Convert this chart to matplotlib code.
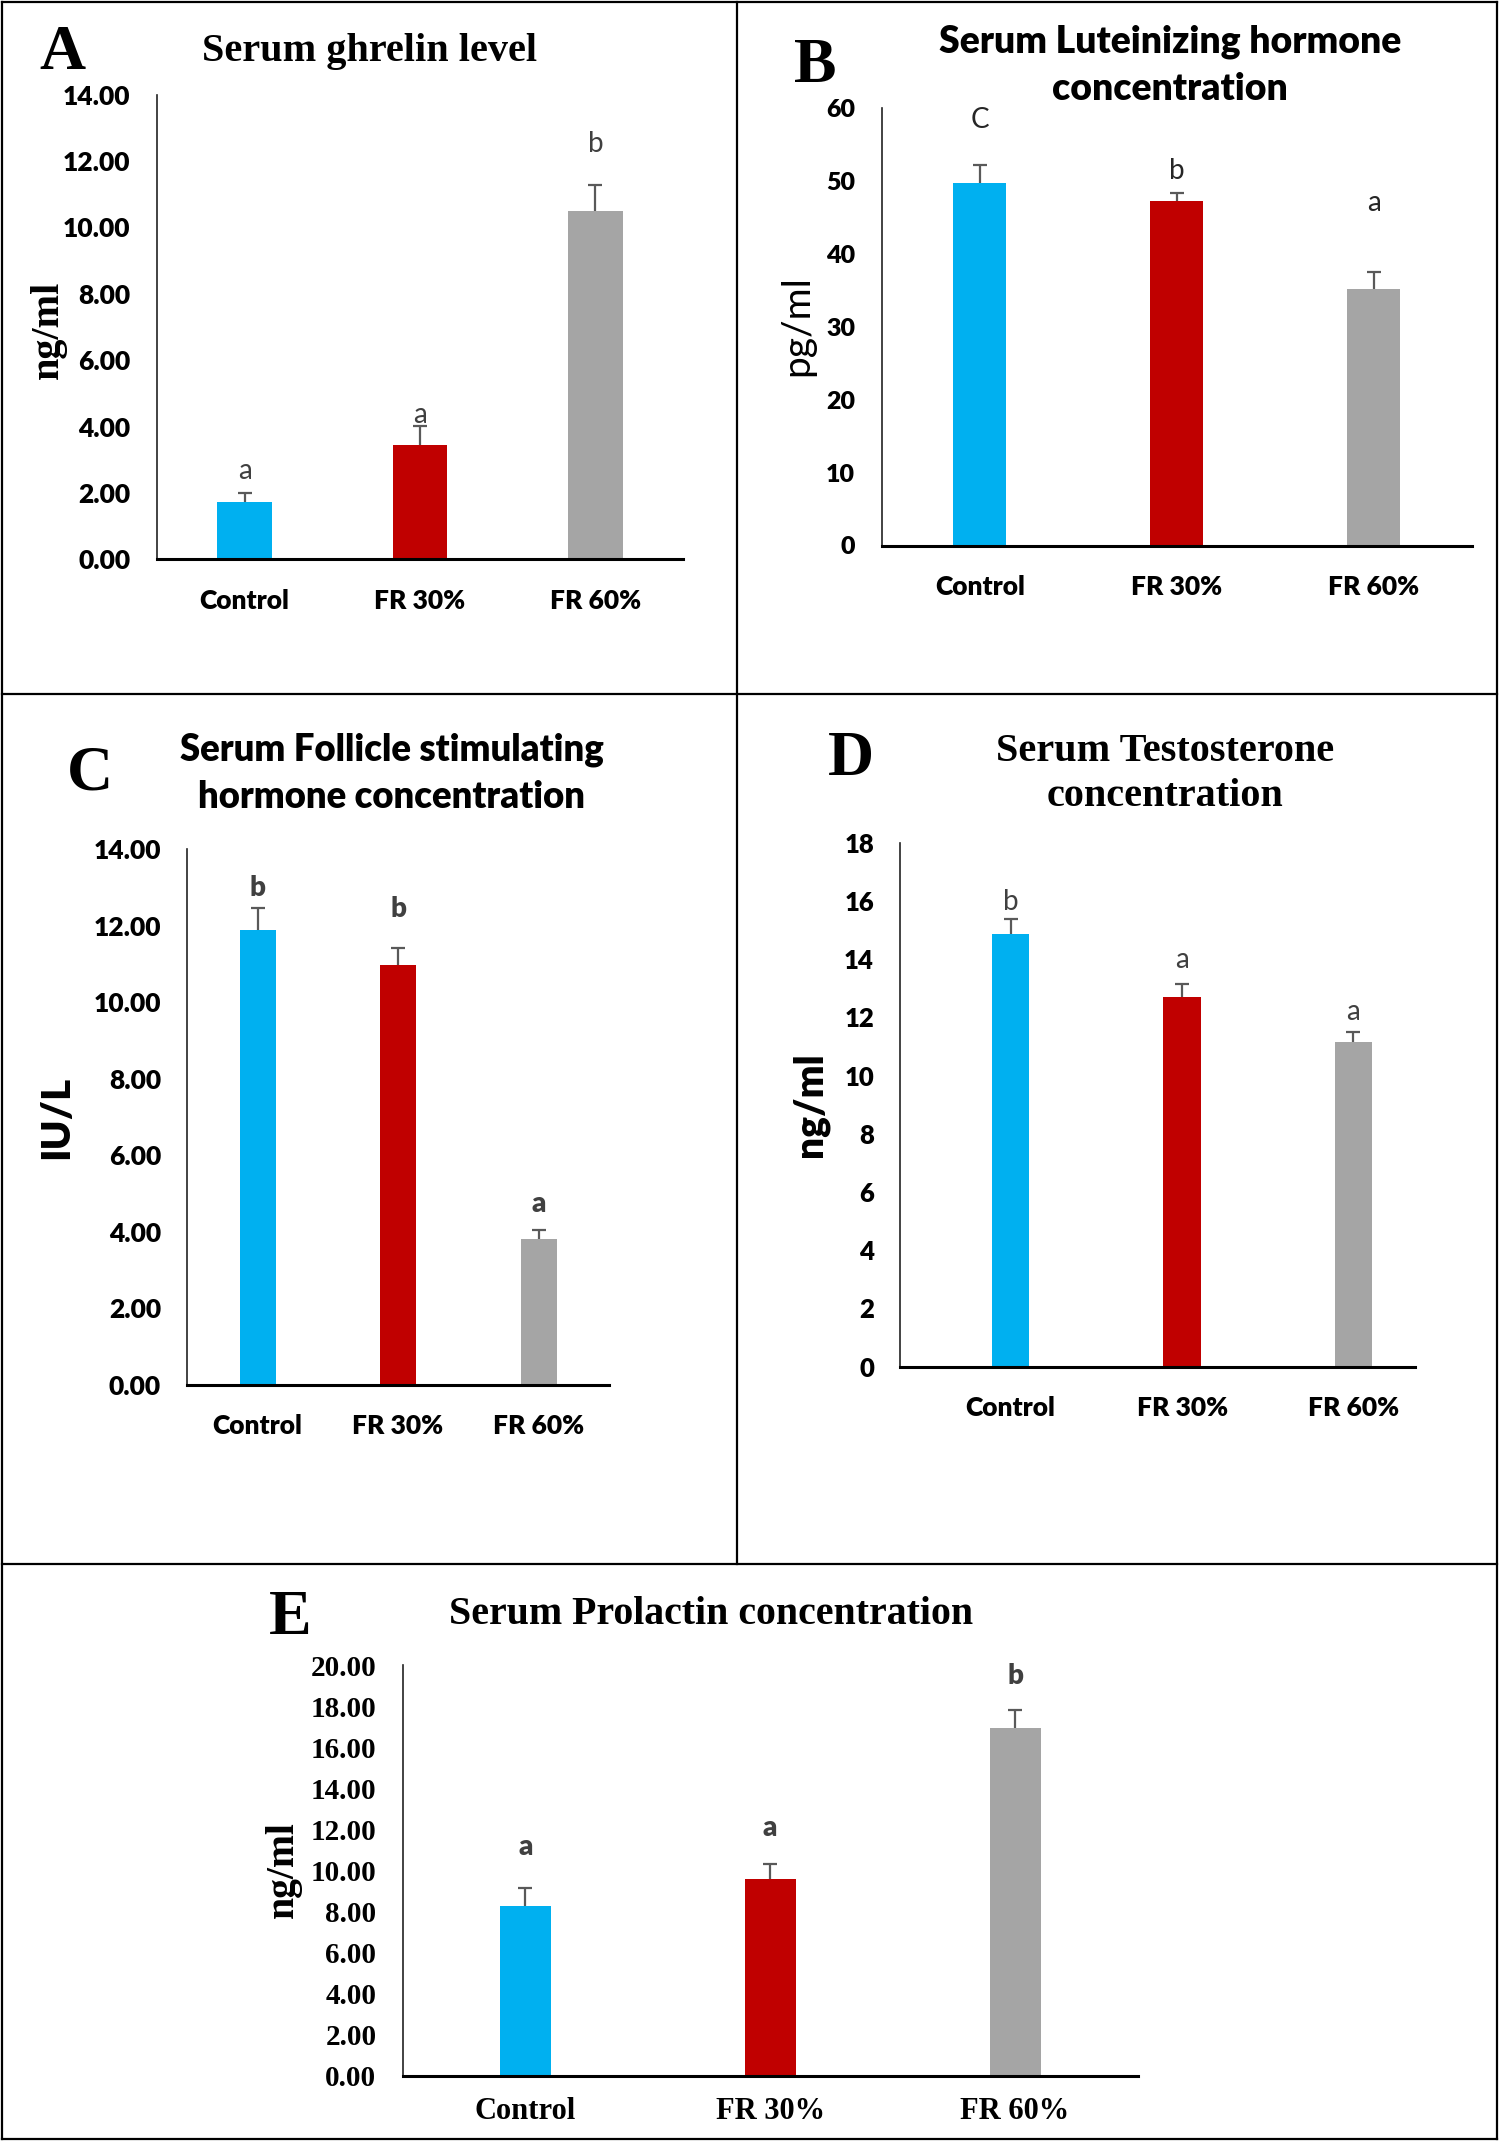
import matplotlib
matplotlib.use("Agg")
import matplotlib.pyplot as plt
from matplotlib.lines import Line2D
import numpy as np

W, H = 1500, 2141

groups = ["Control", "FR 30%", "FR 60%"]
bar_colors = ["#00B0F0", "#C00000", "#A5A5A5"]

# A - ghrelin (ng/ml)
ghrelin = [1.74, 3.46, 10.50]
ghrelin_err = [0.26, 0.55, 0.77]
ghrelin_sig = ["a", "a", "b"]
ghrelin_sig_y = [2.66, 4.34, 12.52]

# B - LH (pg/ml)
lh = [49.66, 47.21, 35.15]
lh_err = [2.57, 1.16, 2.33]
lh_sig = ["C", "b", "a"]
lh_sig_y = [58.4, 51.4, 47.0]

# C - FSH (IU/L)
fsh = [11.90, 10.98, 3.82]
fsh_err = [0.58, 0.44, 0.22]
fsh_sig = ["b", "b", "a"]
fsh_sig_y = [12.98, 12.43, 4.74]

# D - testosterone (ng/ml)
testo = [14.86, 12.70, 11.16]
testo_err = [0.53, 0.46, 0.32]
testo_sig = ["b", "a", "a"]
testo_sig_y = [15.96, 13.96, 12.19]

# E - prolactin (ng/ml)
prl = [8.27, 9.60, 16.95]
prl_err = [0.88, 0.69, 0.88]
prl_sig = ["a", "a", "b"]
prl_sig_y = [11.14, 12.09, 19.48]

SANS = "Lato"
SERIF = "Liberation Serif"


def fx(x):
    return x / W


def fy(y):
    return 1 - y / H


def panel(fig, box, vals, errs, sig, sig_y, ymax, ystep, fmt, xlim, width,
          tick_fam, tick_size, xtick_size, sig_weight, sig_color, xpad=21, sig_size=20):
    left, right, top, bottom = box
    ax = fig.add_axes([fx(left), fy(bottom), (right - left) / W, (bottom - top) / H])
    x = np.arange(len(vals))
    ax.bar(x, vals, width=width, color=bar_colors, zorder=2)
    eb = ax.errorbar(x, vals, yerr=[np.zeros(len(errs)), errs], fmt="none",
                     ecolor="#595959", elinewidth=1.6, capsize=5, capthick=1.6, zorder=3)
    eb[1][0].set_visible(False)  # no cap at the bar top
    for xi, s, sy in zip(x, sig, sig_y):
        ax.text(xi, sy, s, ha="center", va="center", fontsize=sig_size,
                family=SANS, fontweight=sig_weight, color=sig_color)
    ax.set_xlim(*xlim)
    ax.set_ylim(0, ymax)
    yt = np.arange(0, ymax + ystep / 2, ystep)
    ax.set_yticks(yt, [fmt % v for v in yt], family=tick_fam, fontweight="heavy",
                  fontsize=tick_size)
    ax.set_xticks(x, groups, family=tick_fam, fontweight="heavy", fontsize=xtick_size)
    for sp in ["top", "right"]:
        ax.spines[sp].set_visible(False)
    ax.spines["left"].set_linewidth(1.2)
    ax.spines["left"].set_color("#222222")
    ax.spines["bottom"].set_linewidth(2.2)
    ax.spines["bottom"].set_color("black")
    ax.tick_params(axis="y", length=0, pad=19)
    ax.tick_params(axis="x", length=0, pad=xpad)
    return ax


fig = plt.figure(figsize=(W / 100, H / 100), dpi=100)

# frame lines
lw = 1.6
for (x0, y0, x1, y1) in [(2, 2, 1497, 2), (2, 2139, 1497, 2139), (2, 2, 2, 2139),
                         (1497, 2, 1497, 2139), (2, 694, 1497, 694),
                         (2, 1564, 1497, 1564), (737, 2, 737, 1564)]:
    fig.add_artist(Line2D([fx(x0), fx(x1)], [fy(y0), fy(y1)], color="black",
                          lw=lw, transform=fig.transFigure))

# A
panel(fig, (157, 683, 94.6, 559.4), ghrelin, ghrelin_err, ghrelin_sig, ghrelin_sig_y,
      14, 2, "%.2f", (-0.5, 2.5), 0.31, SANS, 19, 19, "normal", "#404040")
fig.text(fx(62), fy(54), "A", ha="center", va="center", family=SERIF,
         fontweight="bold", fontsize=46)
fig.text(fx(370), fy(51), "Serum ghrelin level", ha="center", va="center",
         family=SERIF, fontweight="bold", fontsize=29)
fig.text(fx(48), fy(330), "ng/ml", ha="center", va="center", rotation=90,
         family=SERIF, fontweight="bold", fontsize=29)

# B
panel(fig, (881.5, 1472, 108, 545.5), lh, lh_err, lh_sig, lh_sig_y,
      60, 10, "%d", (-0.5, 2.5), 0.27, SANS, 18, 19, "normal", "#262626")
fig.text(fx(815), fy(67), "B", ha="center", va="center", family=SERIF,
         fontweight="bold", fontsize=46)
fig.text(fx(1170), fy(65), "Serum Luteinizing hormone\nconcentration", ha="center",
         va="center", family=SANS, fontweight="heavy", fontsize=26.8, linespacing=1.45)
fig.text(fx(797), fy(326), "pg/ml", ha="center", va="center", rotation=90,
         family=SANS, fontsize=28)

# C
panel(fig, (187.3, 608.8, 849.4, 1384.9), fsh, fsh_err, fsh_sig, fsh_sig_y,
      14, 2, "%.2f", (-0.5, 2.5), 0.256, SANS, 19, 19, "heavy", "#404040")
fig.text(fx(90), fy(774), "C", ha="center", va="center", family=SERIF,
         fontweight="bold", fontsize=46)
fig.text(fx(392), fy(773), "Serum Follicle stimulating\nhormone concentration",
         ha="center", va="center", family=SANS, fontweight="heavy", fontsize=26.3,
         linespacing=1.45)
fig.text(fx(57), fy(1117), "IU/L", ha="center", va="center", rotation=90,
         family=SANS, fontweight="heavy", fontsize=29)

# D
panel(fig, (900.4, 1414.7, 842.7, 1366.6), testo, testo_err, testo_sig, testo_sig_y,
      18, 2, "%d", (-0.643, 2.357), 0.22, SANS, 18.5, 19, "normal", "#404040")
fig.text(fx(851), fy(760), "D", ha="center", va="center", family=SERIF,
         fontweight="bold", fontsize=46)
fig.text(fx(1165), fy(774), "Serum Testosterone\nconcentration", ha="center",
         va="center", family=SERIF, fontweight="bold", fontsize=29, linespacing=1.3)
fig.text(fx(810), fy(1105), "ng/ml", ha="center", va="center", rotation=90,
         family=SANS, fontweight="heavy", fontsize=28)

# E
panel(fig, (402.8, 1137.5, 1665.2, 2075.7), prl, prl_err, prl_sig, prl_sig_y,
      20, 2, "%.2f", (-0.5, 2.5), 0.208, SERIF, 21, 22, "heavy", "#404040", xpad=15)
fig.text(fx(290), fy(1619), "E", ha="center", va="center", family=SERIF,
         fontweight="bold", fontsize=46)
fig.text(fx(711), fy(1615), "Serum Prolactin concentration", ha="center",
         va="center", family=SERIF, fontweight="bold", fontsize=28.7)
fig.text(fx(283), fy(1870), "ng/ml", ha="center", va="center", rotation=90,
         family=SERIF, fontweight="bold", fontsize=28.5)

fig.savefig("out.png", dpi=100)
